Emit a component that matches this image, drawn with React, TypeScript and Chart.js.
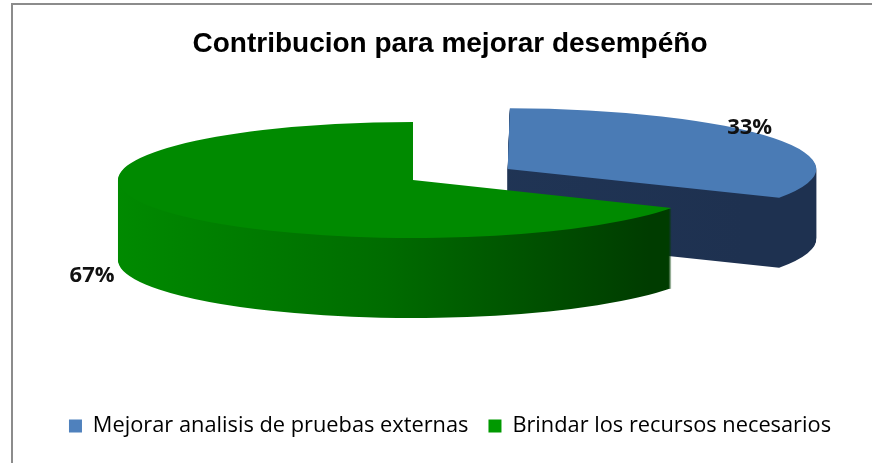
import React, { useEffect, useRef } from "react";
import { Chart, registerables, ArcElement } from "chart.js";
Chart.register(...registerables);

const chartTitle = "Contribucion para mejorar desempéño";
const categories = ["Mejorar analisis de pruebas externas", "Brindar los recursos necesarios"];
const values = [33, 67];
const valueLabels = ["33%", "67%"];
const topColors = ["#4A7BB5", "#008A00"];
const legendColors = ["#4F81BD", "#009900"];
const explode = [440, 0];
const labelRadius = [0.953, 1.264];
const labelShift = [-13, 58];

const CX = 413;
const CY = 180;
const K = 58 / 295;
const DEPTHS = [70, 80];
const RADIUS = 295;

function sideFill(ctx: CanvasRenderingContext2D, i: number, ox: number, r: number) {
  if (!isFinite(ox) || !isFinite(r)) return i === 0 ? "#1E3150" : "#006C00";
  const g = ctx.createLinearGradient(ox - r, 0, ox + r * 0.8, 0);
  if (i === 0) {
    g.addColorStop(0, "#22385A");
    g.addColorStop(1, "#1E3150");
  } else {
    g.addColorStop(0, "#008A00");
    g.addColorStop(0.5, "#006C00");
    g.addColorStop(1, "#003C00");
  }
  return g;
}

const pie3d = {
  id: "pie3d",
  beforeDatasetsDraw(chart: any) {
    const ctx = chart.ctx as CanvasRenderingContext2D;
    const arcs = chart.getDatasetMeta(0).data;
    const ox = arcs[0].x, oy = arcs[0].y;
    const proj = (dy: number) => {
      ctx.translate(CX, CY + dy);
      ctx.scale(1, K);
      ctx.translate(-ox, -oy);
    };
    arcs.forEach((arc: any, i: number) => {
      const fake = Object.create(arc);
      fake.options = Object.assign({}, arc.options, { backgroundColor: sideFill(ctx, i, ox, arc.outerRadius), borderWidth: 0 });
      for (let d = DEPTHS[i]; d >= 1; d--) {
        ctx.save();
        proj(d);
        ArcElement.prototype.draw.call(fake, ctx);
        ctx.restore();
      }
    });
    ctx.save();
    proj(0);
  },
  afterDatasetsDraw(chart: any) {
    const ctx = chart.ctx as CanvasRenderingContext2D;
    ctx.restore();
    const arcs = chart.getDatasetMeta(0).data;
    ctx.save();
    ctx.font = "bold 22px 'Open Sans'";
    ctx.fillStyle = "#111";
    ctx.textAlign = "center";
    ctx.textBaseline = "middle";
    arcs.forEach((arc: any, i: number) => {
      const mid = (arc.startAngle + arc.endAngle) / 2;
      const off = (arc.options.offset || 0) / 4;
      const r = arc.outerRadius * labelRadius[i] + off;
      const px = Math.cos(mid) * r;
      const py = Math.sin(mid) * r;
      ctx.fillText(valueLabels[i], CX + px, CY + py * K + labelShift[i]);
    });
    ctx.restore();
  },
};

export default function App() {
  const ref = useRef<HTMLCanvasElement>(null);
  useEffect(() => {
    const chart = new Chart(ref.current!, {
      type: "pie",
      data: {
        labels: categories,
        datasets: [
          {
            data: values,
            backgroundColor: topColors,
            borderWidth: 0,
            offset: explode,
            radius: RADIUS,
            cutout: "0%",
            clip: false,
          } as any,
        ],
      },
      options: {
        responsive: false,
        animation: false,
        layout: { padding: { left: 28, right: 0, top: 0, bottom: 16 } },
        plugins: {
          title: {
            display: true,
            text: chartTitle,
            color: "#000",
            font: { family: "'Liberation Sans', Arial", size: 28, weight: "bold" },
            padding: { top: 27, bottom: 10 },
          },
          legend: {
            position: "bottom",
            labels: {
              boxWidth: 13,
              boxHeight: 13,
              padding: 20,
              color: "#222",
              font: { family: "'Open Sans'", size: 21.8 },
              generateLabels: () =>
                categories.map((cat, i) => ({
                  text: cat,
                  fillStyle: legendColors[i],
                  strokeStyle: legendColors[i],
                  lineWidth: 0,
                  index: i,
                  datasetIndex: 0,
                  hidden: false,
                })),
            },
          },
          tooltip: { enabled: false },
        },
      } as any,
      plugins: [pie3d],
    });
    return () => chart.destroy();
  }, []);
  return (
    <div style={{ position: "fixed", left: 0, top: 0, width: 872, height: 463, overflow: "hidden", background: "#fff" }}>
      <div style={{ position: "absolute", left: 11, top: 3, width: 900, height: 500, borderLeft: "2px solid #8C8C8C", borderTop: "2px solid #8C8C8C" }} />
      <canvas ref={ref} width={872} height={463} style={{ position: "absolute", left: 0, top: 0 }} />
    </div>
  );
}
